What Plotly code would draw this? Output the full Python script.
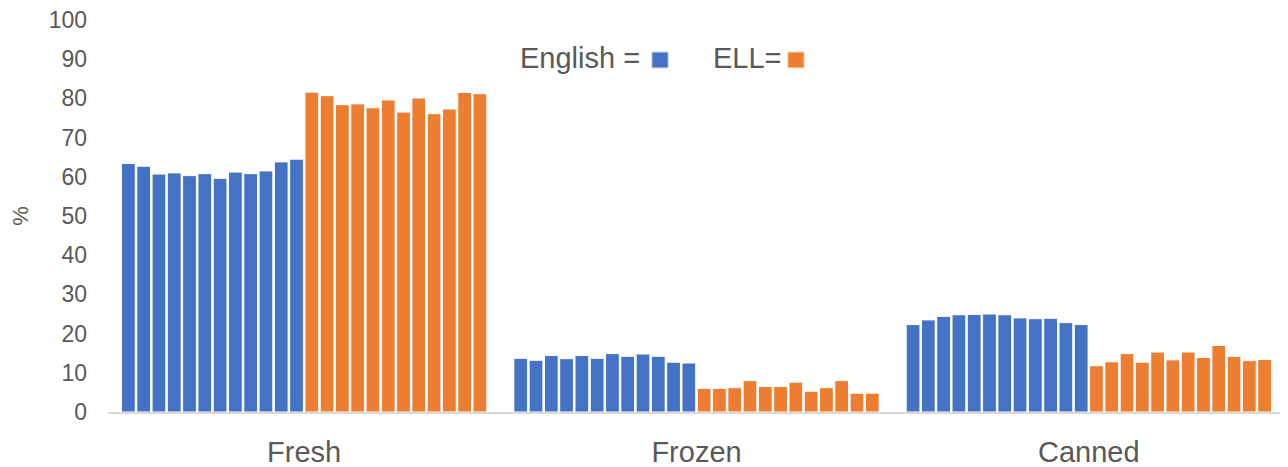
import plotly.graph_objects as go

categories = ["Fresh", "Frozen", "Canned"]

# 12 bars per language group, per category (%)
fresh_english = [63.4, 62.7, 60.7, 61.0, 60.3, 60.8, 59.6, 61.2, 60.8, 61.5, 63.8, 64.5]
fresh_ell = [81.6, 80.7, 78.4, 78.6, 77.6, 79.6, 76.5, 80.1, 76.1, 77.3, 81.5, 81.2]

frozen_english = [13.7, 13.2, 14.4, 13.6, 14.4, 13.7, 14.9, 14.2, 14.8, 14.2, 12.7, 12.5]
frozen_ell = [6.0, 6.0, 6.2, 8.0, 6.5, 6.5, 7.6, 5.3, 6.2, 8.0, 4.8, 4.8]

canned_english = [22.3, 23.5, 24.4, 24.8, 24.9, 25.0, 24.8, 24.0, 23.8, 23.9, 22.8, 22.3]
canned_ell = [11.8, 12.8, 14.9, 12.7, 15.3, 13.3, 15.3, 13.9, 17.0, 14.2, 13.1, 13.4]

blue = "#4472C4"
orange = "#ED7D31"
text_color = "#595959"
font_family = "Liberation Sans, Arial, sans-serif"

fig = go.Figure()

# one trace per bar position so each category shows 12 blue then 12 orange bars
for i in range(12):
    fig.add_trace(go.Bar(
        x=categories,
        y=[fresh_english[i], frozen_english[i], canned_english[i]],
        marker=dict(color=blue, line=dict(color="white", width=1)),
        showlegend=False,
    ))
for i in range(12):
    fig.add_trace(go.Bar(
        x=categories,
        y=[fresh_ell[i], frozen_ell[i], canned_ell[i]],
        marker=dict(color=orange, line=dict(color="white", width=1)),
        showlegend=False,
    ))

# legend drawn as text + squares, like the original
fig.add_annotation(x=0.348, y=0.903, xref="paper", yref="paper", xanchor="left", yanchor="middle",
                   text="English =", showarrow=False,
                   font=dict(size=29, color=text_color, family=font_family))
fig.add_annotation(x=0.512, y=0.903, xref="paper", yref="paper", xanchor="left", yanchor="middle",
                   text="ELL=", showarrow=False,
                   font=dict(size=29, color=text_color, family=font_family))
fig.add_shape(type="rect", xref="paper", yref="paper",
              x0=0.4622, x1=0.4758, y0=0.878, y1=0.918,
              fillcolor=blue, line=dict(color="#A9BFE6", width=1))
fig.add_shape(type="rect", xref="paper", yref="paper",
              x0=0.5777, x1=0.5913, y0=0.878, y1=0.918,
              fillcolor=orange, line=dict(color="#F6C3A0", width=1))

fig.update_layout(
    width=1280,
    height=459,
    barmode="group",
    bargap=0.065,
    bargroupgap=0.1,
    plot_bgcolor="white",
    paper_bgcolor="white",
    margin=dict(l=100, r=3, t=12, b=55),
    font=dict(family=font_family, color=text_color),
    xaxis=dict(
        showline=True, linecolor="#D9D9D9", linewidth=1.5,
        showgrid=False, ticks="",
        tickfont=dict(size=29, color=text_color),
        ticklabelstandoff=13,
        automargin=False,
    ),
    yaxis=dict(
        range=[0, 100], dtick=10,
        showgrid=False, showline=False, zeroline=False,
        tickfont=dict(size=23, color=text_color),
        ticklabelstandoff=20,
        ticklabeloverflow="allow",
        automargin=False,
        title=dict(text="%", font=dict(size=22, color=text_color), standoff=20),
    ),
)

fig.write_html("out.html")
